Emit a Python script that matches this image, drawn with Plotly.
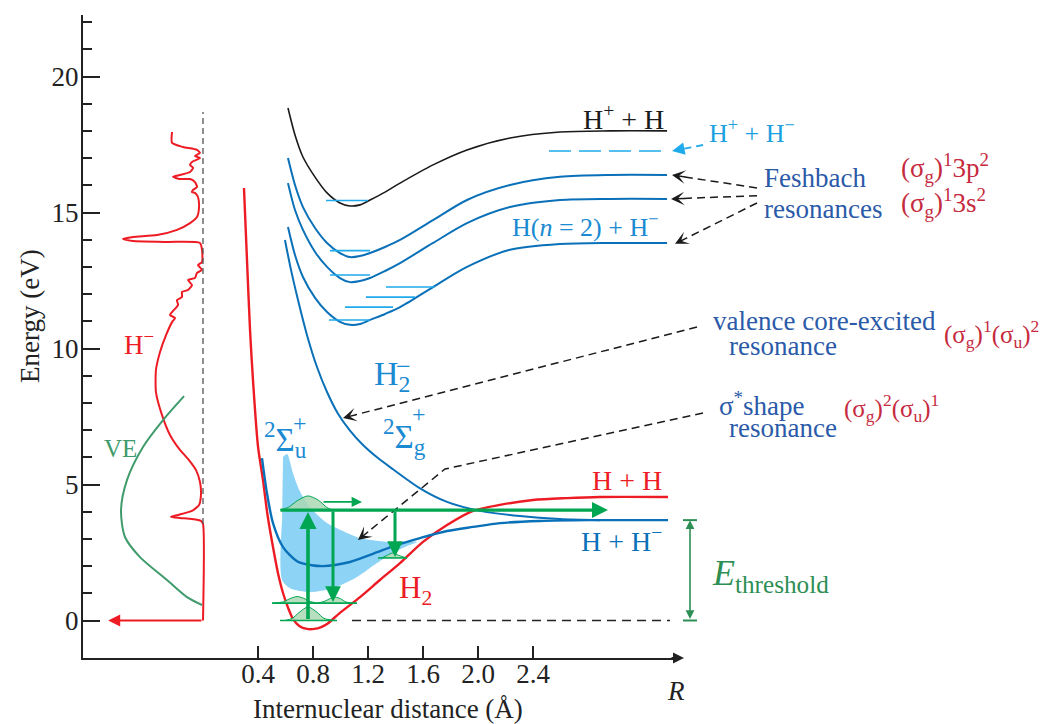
import math
import plotly.graph_objects as go

# ---------------------------------------------------------------- data
# Ground state H2 (R in Å, E in eV)
h2_r = [0.298, 0.320, 0.342, 0.364, 0.400, 0.436, 0.470, 0.509, 0.545, 0.582, 0.620, 0.655,
        0.700, 0.756, 0.810, 0.860, 0.902, 0.996, 1.142, 1.287, 1.433, 1.600, 1.775, 1.964,
        2.160, 2.400, 2.647, 2.887, 3.382]
h2_e = [15.90, 13.25, 10.68, 8.80, 6.40, 5.17, 3.85, 2.70, 1.75, 1.01, 0.45, 0.05,
        -0.20, -0.31, -0.31, -0.24, -0.13, 0.28, 0.86, 1.49, 2.11, 2.89, 3.51, 4.03,
        4.25, 4.43, 4.50, 4.54, 4.54]

# H2- 2Σu+ (shape resonance)
su_r = [0.429, 0.465, 0.509, 0.582, 0.684, 0.790, 0.873, 0.960, 1.069, 1.236, 1.411, 1.578,
        1.775, 1.964, 2.160, 2.451, 2.815, 3.382]
su_e = [5.97, 4.69, 3.58, 2.70, 2.18, 2.03, 2.00, 2.04, 2.15, 2.45, 2.78, 3.03,
        3.29, 3.44, 3.58, 3.66, 3.69, 3.69]

# H2- 2Σg+ (valence core-excited resonance)
sg_r = [0.596, 0.640, 0.691, 0.756, 0.829, 0.902, 0.982, 1.069, 1.160, 1.270, 1.382, 1.578,
        1.775, 2.015, 2.305, 2.596, 2.887]
sg_e = [13.99, 12.89, 11.78, 10.50, 9.32, 8.40, 7.60, 6.98, 6.47, 5.98, 5.56, 4.86,
        4.36, 4.03, 3.84, 3.73, 3.69]

# Rydberg-type curves (shared R grid)
ryd_r = [0.618, 0.669, 0.727, 0.815, 0.902, 0.996, 1.069, 1.142, 1.215, 1.324, 1.433, 1.673,
         1.920, 2.233, 2.596, 2.960, 3.375]
h2p_e = [18.84, 17.85, 17.04, 16.30, 15.72, 15.35, 15.24, 15.28, 15.46, 15.75, 16.08, 16.75,
         17.30, 17.74, 17.96, 18.00, 18.00]
fesh1_e = [17.00, 16.01, 15.20, 14.43, 13.88, 13.51, 13.36, 13.40, 13.51, 13.73, 13.99, 14.72,
           15.46, 16.01, 16.31, 16.38, 16.38]
fesh2_e = [16.08, 15.09, 14.36, 13.55, 13.00, 12.59, 12.44, 12.48, 12.59, 12.85, 13.14, 13.88,
           14.61, 15.20, 15.46, 15.50, 15.50]
fesh3_e = [14.47, 13.44, 12.63, 11.86, 11.34, 10.98, 10.87, 10.90, 11.05, 11.27, 11.52, 12.26,
           13.00, 13.63, 13.84, 13.88, 13.88]

# vibrational levels in the Rydberg wells: (energy, R start, R end)
ryd_level_e = [15.44, 13.60, 12.70, 11.05, 11.52, 11.89, 12.26]
ryd_level_r0 = [0.895, 0.924, 0.924, 0.916, 1.033, 1.185, 1.331]
ryd_level_r1 = [1.200, 1.215, 1.215, 1.215, 1.382, 1.542, 1.687]

# H+ + H- asymptote
ion_pair_e = 17.26
ion_pair_r = [2.516, 3.345]

# autodetachment width of the 2Σu+ state
width_r = [0.582, 0.611, 0.655, 0.705, 0.778, 0.902, 1.047, 1.142, 1.338, 1.556, 1.484, 1.382,
           1.265, 1.120, 0.945, 0.778, 0.633, 0.575, 0.575]
width_e = [6.01, 6.12, 5.40, 4.74, 4.17, 3.58, 3.22, 3.03, 2.89, 2.89, 2.74, 2.48,
           2.11, 1.60, 1.19, 1.05, 1.19, 1.49, 3.69]

# H2 vibrational levels used in the DEA sketch
vib_e = [0.0, 0.64, 2.30]
vib_r0 = [0.560, 0.502, 1.273]
vib_r1 = [0.975, 1.120, 1.484]

# vibrational probability densities
wf0_r = [0.596, 0.650, 0.700, 0.764, 0.830, 0.880, 0.960]
wf0_e = [0.00, 0.08, 0.30, 0.50, 0.30, 0.08, 0.00]
wf1a_r = [0.510, 0.580, 0.640, 0.684, 0.730, 0.780, 0.830]
wf1a_e = [0.64, 0.68, 0.82, 0.88, 0.82, 0.70, 0.64]
wf1b_r = [0.830, 0.880, 0.930, 0.960, 1.000, 1.040, 1.080]
wf1b_e = [0.64, 0.70, 0.82, 0.86, 0.80, 0.68, 0.64]
wfc_r = [0.560, 0.620, 0.690, 0.764, 0.840, 0.900, 0.940]
wfc_e = [4.06, 4.16, 4.42, 4.58, 4.42, 4.16, 4.06]
wf2_r = [1.300, 1.340, 1.380, 1.420, 1.480]
wf2_e = [2.30, 2.40, 2.48, 2.40, 2.30]

# DEA energies
capture_e = 4.06
asym_hh = 4.54
asym_hhm = 3.69

# H- yield spectrum (arbitrary intensity units) vs electron energy (eV)
hm_i = [0.000, 0.000, 0.017, 0.092, 0.192, 0.267, 0.208, 0.092, 0.033, 0.017, 0.025, 0.058,
        0.117, 0.192, 0.275, 0.342, 0.392, 0.392, 0.358, 0.308, 0.258, 0.233, 0.275, 0.258,
        0.208, 0.217, 0.175, 0.175, 0.125, 0.092, 0.125, 0.067, 0.050, 0.008, 0.042, 0.008,
        0.008, 0.025, 0.300, 0.583, 0.667, 0.583, 0.383, 0.217, 0.108, 0.050, 0.033, 0.042,
        0.067, 0.092, 0.083, 0.050, 0.067, 0.108, 0.192, 0.250, 0.192, 0.108, 0.083, 0.108,
        0.092, 0.025, 0.067, 0.025, 0.050, 0.167, 0.258, 0.258]
hm_e = [0.00, 3.55, 3.66, 3.73, 3.77, 3.81, 3.88, 4.03, 4.25, 4.61, 5.09, 5.53,
        5.90, 6.27, 6.82, 7.56, 8.40, 9.21, 9.87, 10.49, 10.97, 11.12, 11.23, 11.34,
        11.60, 11.78, 11.89, 12.08, 12.15, 12.33, 12.52, 12.59, 12.78, 12.89, 13.07, 13.18,
        13.62, 13.88, 13.92, 13.95, 14.03, 14.10, 14.17, 14.36, 14.61, 14.83, 15.20, 15.57,
        15.72, 15.75, 15.83, 15.94, 16.12, 16.23, 16.23, 16.31, 16.38, 16.49, 16.64, 16.75,
        16.86, 17.00, 17.08, 17.19, 17.30, 17.41, 17.56, 17.96]

# vibrational excitation (VE) cross section
ve_i = [0.158, 0.333, 0.500, 0.633, 0.683, 0.650, 0.525, 0.300, 0.133, 0.008]
ve_e = [8.25, 7.37, 6.38, 5.17, 4.06, 3.07, 2.33, 1.49, 0.86, 0.57]

x_ticks = [0.4, 0.8, 1.2, 1.6, 2.0, 2.4]
x_tick_text = ["0.4", "0.8", "1.2", "1.6", "2.0", "2.4"]
y_ticks = [0, 5, 10, 15, 20]
y_minor = [1, 2, 3, 4, 6, 7, 8, 9, 11, 12, 13, 14, 16, 17, 18, 19, 21, 22]

# ---------------------------------------------------------------- layout constants
W, H = 1040, 724
R0_PX, E0_PX = 203.0, 620.5          # pixel position of R = 0, E = 0
PX_A, PX_EV = 137.5, 27.2            # pixels per Å / per eV
FONT = "Liberation Serif, Times New Roman, serif"

RED = "#ed1c24"
BLUE = "#0a71b9"
LIGHT = "#1eaaeb"
LABEL_BLUE = "#1a8ad2"
TEXT_BLUE = "#2a5aa8"
CFG_RED = "#c62a3e"
GREEN = "#00a651"
DGREEN = "#2e8f55"
VE_GREEN = "#3f9b6b"


def rx(px):
    return (px - R0_PX) / PX_A


def ey(py):
    return (E0_PX - py) / PX_EV


fig = go.Figure()


def line(r, e, color, width=2.2, dash=None, shape="spline", smoothing=0.8, xaxis="x"):
    fig.add_trace(go.Scatter(
        x=r, y=e, mode="lines", xaxis=xaxis, yaxis="y",
        line=dict(color=color, width=width, dash=dash, shape=shape, smoothing=smoothing),
        hoverinfo="skip", showlegend=False))


def area(r, e, fill, edge=None, width=0, shape="spline"):
    fig.add_trace(go.Scatter(
        x=r, y=e, mode="lines", fill="toself", fillcolor=fill,
        line=dict(color=edge or fill, width=width, shape=shape, smoothing=0.8),
        hoverinfo="skip", showlegend=False))


def arrow(tip, tail, color, width, head=2, size=1.0, ref="x", both=False):
    fig.add_annotation(
        x=tip[0], y=tip[1], ax=tail[0], ay=tail[1], xref=ref, yref="y", axref=ref, ayref="y",
        text="", showarrow=True, arrowhead=head, arrowsize=size, arrowwidth=width,
        arrowcolor=color, arrowside="end+start" if both else "end",
        startarrowhead=head, startarrowsize=size, standoff=0, startstandoff=0)


def dashed_arrow(points, color, width=1.5, head=3, size=1.5, dash="8px,5px", head_len=13):
    """Dashed polyline through points (R, E) ending in an arrowhead at the last point."""
    (r1, e1), (r2, e2) = points[-2], points[-1]
    dx = (r2 - r1) * PX_A
    dy = -(e2 - e1) * PX_EV
    n = math.hypot(dx, dy)
    ux, uy = dx / n, dy / n
    base = (r2 - ux * head_len / PX_A, e2 + uy * head_len / PX_EV)
    rs = [p[0] for p in points[:-1]] + [base[0]]
    es = [p[1] for p in points[:-1]] + [base[1]]
    line(rs, es, color, width=width, dash=dash, shape="linear")
    fig.add_annotation(x=r2, y=e2, ax=-ux * (head_len + 2), ay=-uy * (head_len + 2),
                       xref="x", yref="y", text="", showarrow=True, arrowhead=head,
                       arrowsize=size, arrowwidth=width, arrowcolor=color, standoff=0)


def label(text, r, e, color, size=26, xanchor="left", ref="x", yanchor="middle"):
    fig.add_annotation(x=r, y=e, xref=ref, yref="y", text=text, showarrow=False,
                       xanchor=xanchor, yanchor=yanchor,
                       font=dict(family=FONT, size=size, color=color))


def page_text(text, px, py, size=27, angle=0, italic=False):
    fig.add_annotation(x=px / W, y=1 - py / H, xref="paper", yref="paper", text=text,
                       textangle=angle, showarrow=False, xanchor="center", yanchor="middle",
                       font=dict(family=FONT, size=size, color="#222",
                                 style="italic" if italic else "normal"))


# ---------------------------------------------------------------- main panel
area(width_r, width_e, "rgb(140,211,245)")

line(h2_r, h2_e, RED, width=2.4)
line(su_r, su_e, BLUE, width=2.4)
line(sg_r, sg_e, BLUE, width=2.0)
line(ryd_r, h2p_e, "#1a1a1a", width=1.6)
for fe in (fesh1_e, fesh2_e, fesh3_e):
    line(ryd_r, fe, BLUE, width=2.0)

for e, r0, r1 in zip(ryd_level_e, ryd_level_r0, ryd_level_r1):
    line([r0, r1], [e, e], LIGHT, width=1.6, shape="linear")

line(ion_pair_r, [ion_pair_e, ion_pair_e], LIGHT, width=1.6, dash="22px,8px", shape="linear")

# ground-state reference line
line([rx(352), rx(670)], [0, 0], "#222222", width=1.5, dash="9px,6px", shape="linear")

# vibrational levels and densities
for r, e in ((wf0_r, wf0_e), (wf1a_r, wf1a_e), (wf1b_r, wf1b_e), (wfc_r, wfc_e), (wf2_r, wf2_e)):
    area(r, e, "rgba(170,216,180,0.85)", edge=GREEN, width=1.0)
for e, r0, r1 in zip(vib_e, vib_r0, vib_r1):
    line([r0, r1], [e, e], GREEN, width=1.6, shape="linear")

# electron capture, dissociation and autodetachment
arrow((rx(608), capture_e), (rx(279), capture_e), GREEN, 3.2, head=2, size=1.0)
arrow((rx(308), capture_e - 0.07), (rx(308), 0.0), GREEN, 3.6, head=2, size=0.95)
arrow((rx(333), vib_e[1] + 0.04), (rx(333), capture_e), GREEN, 3.0, head=2, size=1.05)
arrow((rx(395), vib_e[2] + 0.03), (rx(395), capture_e), GREEN, 3.0, head=2, size=1.05)
arrow((rx(362), 4.36), (rx(322), 4.36), GREEN, 1.6, head=2, size=1.3)

# threshold energy bracket
arrow((rx(690), asym_hhm), (rx(690), 0.0), DGREEN, 1.6, head=2, size=1.1, both=True)
line([rx(683), rx(697)], [asym_hhm, asym_hhm], DGREEN, width=2, shape="linear")
line([rx(683), rx(697)], [0, 0], DGREEN, width=2, shape="linear")

# pointer arrows from the side labels
for tail_e, tip in ((15.90, (rx(672), fesh1_e[-1])),
                    (15.62, (rx(671), fesh2_e[-1])),
                    (15.35, (rx(675), fesh3_e[-1] - 0.03))):
    dashed_arrow([(rx(757), tail_e), tip], "#1a1a1a")
dashed_arrow([(rx(697), ey(327)), (rx(343), ey(418))], "#1a1a1a")
dashed_arrow([(rx(703), ey(413)), (rx(445), ey(469)), (rx(358), ey(540))], "#1a1a1a")
dashed_arrow([(rx(703), ey(145)), (rx(672), ion_pair_e)], LIGHT, width=1.8, head=2,
             size=1.4, dash="7px,5px", head_len=12)

# ---------------------------------------------------------------- left panel (H- yield, VE)
line(hm_i, hm_e, RED, width=2.0, shape="spline", smoothing=0.6, xaxis="x3")
line(ve_i, ve_e, VE_GREEN, width=2.0, xaxis="x3")
line([0, 0], [ey(524), ey(112)], "#555555", width=1.3, dash="6px,4px", shape="linear", xaxis="x3")
arrow((0.79, 0.0), (0.0, 0.0), RED, 2.0, head=2, size=1.2, ref="x3")

# ---------------------------------------------------------------- labels
label("H<sup>+</sup> + H", rx(666), ey(117), "#1a1a1a", size=28, xanchor="right")
label("H<sup>+</sup> + H<sup>−</sup>", rx(707), ey(131), "#1ba0e0", size=26)
label("Feshbach", rx(762), ey(178), TEXT_BLUE, size=27)
label("resonances", rx(762), ey(209), TEXT_BLUE, size=27)
label("(σ<sub>g</sub>)<sup>1</sup>3p<sup>2</sup>", rx(899), ey(168), CFG_RED, size=27)
label("(σ<sub>g</sub>)<sup>1</sup>3s<sup>2</sup>", rx(899), ey(203), CFG_RED, size=27)
label("H(<i>n</i> = 2) + H<sup>−</sup>", rx(660), ey(225), LABEL_BLUE, size=26, xanchor="right")
label("valence core-excited", rx(711), ey(321), TEXT_BLUE, size=27)
label("resonance", rx(727), ey(346), TEXT_BLUE, size=27)
label("(σ<sub>g</sub>)<sup>1</sup>(σ<sub>u</sub>)<sup>2</sup>", rx(942), ey(334), CFG_RED, size=25)
label("σ<sup>*</sup>shape", rx(717), ey(404), TEXT_BLUE, size=27)
label("resonance", rx(727), ey(428), TEXT_BLUE, size=27)
label("(σ<sub>g</sub>)<sup>2</sup>(σ<sub>u</sub>)<sup>1</sup>", rx(842), ey(408), CFG_RED, size=25)

label("H<sub>2</sub>", rx(372), ey(376), LABEL_BLUE, size=34)
label("−", rx(394), ey(366), LABEL_BLUE, size=26)
label("<sup>2</sup>Σ<sub>g</sub>", rx(381), ey(436), LABEL_BLUE, size=33)
label("+", rx(410), ey(414), LABEL_BLUE, size=24)
label("<sup>2</sup>Σ<sub>u</sub>", rx(262), ey(439), LABEL_BLUE, size=33)
label("+", rx(291), ey(423), LABEL_BLUE, size=24)

label("H<sub>2</sub>", rx(397), ey(590), RED, size=31)
label("H + H", rx(664), ey(480), RED, size=28, xanchor="right")
label("H + H<sup>−</sup>", rx(664), ey(539), BLUE, size=28, xanchor="right")
label("<i>E</i><sub>threshold</sub>", rx(710), ey(575), DGREEN, size=36)

label("H<sup>−</sup>", 0.675, ey(343), RED, size=27, ref="x3")
label("VE", 0.845, ey(448), VE_GREEN, size=25, ref="x3")

# axis titles and axis arrow
page_text("Energy (eV)", 30, 316, angle=-90)
page_text("Internuclear distance (Å)", 388, 709)
page_text("R", 676, 691, italic=True)
fig.add_annotation(x=rx(684), y=ey(658), ax=-14, ay=0, xref="x", yref="y", text="",
                   showarrow=True, arrowhead=2, arrowsize=1.1, arrowwidth=2, arrowcolor="#222",
                   standoff=0)

# dummy trace so the framed axes are drawn
fig.add_trace(go.Scatter(x=[None], y=[None], xaxis="x2", yaxis="y2", mode="lines",
                         showlegend=False, hoverinfo="skip"))

x2_left, x2_right = 83, 680
y2_top, y2_bottom = 15, 658
tick_font = dict(family=FONT, size=27, color="#222")

fig.update_layout(
    width=W, height=H, margin=dict(l=0, r=0, t=0, b=0),
    paper_bgcolor="white", plot_bgcolor="rgba(0,0,0,0)", showlegend=False,
    xaxis=dict(domain=[0, 1], range=[rx(0), rx(W)], visible=False, fixedrange=True),
    yaxis=dict(domain=[0, 1], range=[ey(H), ey(0)], visible=False, fixedrange=True),
    xaxis3=dict(domain=[83 / W, 213 / W], range=[1.0, -10 / 120], visible=False,
                anchor="y", fixedrange=True),
    xaxis2=dict(domain=[x2_left / W, x2_right / W], range=[rx(x2_left), rx(x2_right)],
                anchor="y2", showline=True, linecolor="#222", linewidth=2,
                ticks="inside", ticklen=12, tickwidth=1.5, tickcolor="#222",
                tickvals=x_ticks, ticktext=x_tick_text, tickfont=tick_font,
                ticklabelstandoff=-9,
                showgrid=False, zeroline=False, fixedrange=True),
    yaxis2=dict(domain=[1 - y2_bottom / H, 1 - y2_top / H], range=[ey(y2_bottom), ey(y2_top)],
                anchor="x2", showline=True, linecolor="#222", linewidth=2,
                ticks="inside", ticklen=17, tickwidth=2.2, tickcolor="#222",
                tickvals=y_ticks, ticktext=[str(v) for v in y_ticks], tickfont=tick_font,
                ticklabelstandoff=-3,
                minor=dict(tickmode="array", tickvals=y_minor, ticks="inside", ticklen=9,
                           tickwidth=2.2, tickcolor="#222", showgrid=False),
                showgrid=False, zeroline=False, fixedrange=True),
)

fig.write_html("out.html")
